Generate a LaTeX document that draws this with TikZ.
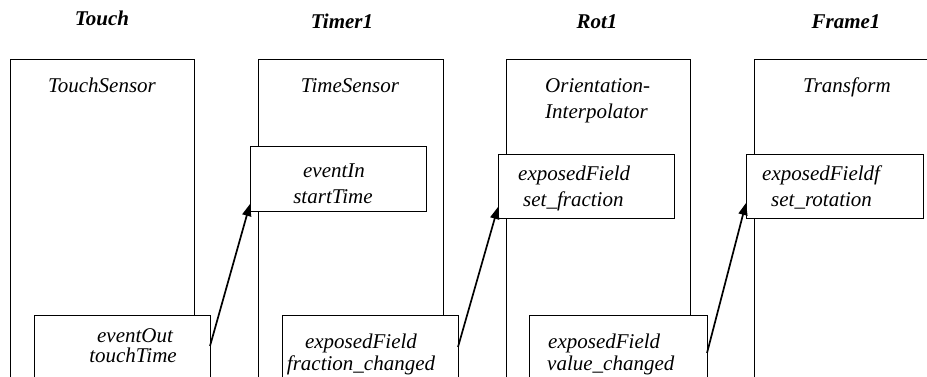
\documentclass[tikz,border=0pt]{standalone}
\usepackage{fontspec}
\setmainfont{Liberation Serif}
\usetikzlibrary{arrows.meta}
\begin{document}
\begin{tikzpicture}[x=1pt, y=-1pt,
  box/.style={draw, line width=0.9pt, fill=white, rectangle, anchor=north west,
              inner sep=0pt, outer sep=0pt},
  lbl/.style={inner sep=0pt, font=\fontsize{21}{25}\selectfont\itshape},
  ttl/.style={inner sep=0pt, font=\fontsize{21}{25}\selectfont\bfseries\itshape},
  link/.style={line width=1.7pt, -{Triangle[length=12pt,width=9pt]}}]
\useasboundingbox (0,0) rectangle (927,376);
\clip (0,0) rectangle (927,376);

% node titles
\node[ttl, anchor=base] (tTouch) at (102,25) {Touch};
\node[ttl, anchor=base] (tTimer) at (342,28) {Timer1};
\node[ttl, anchor=base] (tRot)   at (597,28) {Rot1};
\node[ttl, anchor=base] (tFrame) at (846,28) {Frame1};

% node bodies
\node[box, minimum width=184pt, minimum height=340pt] (bTouch) at (10,59) {};
\node[box, minimum width=185pt, minimum height=340pt] (bTimer) at (258,59) {};
\node[box, minimum width=184pt, minimum height=340pt] (bRot)   at (506,59) {};
\node[box, minimum width=200pt, minimum height=340pt] (bFrame) at (754,59) {};

% node types
\node[lbl, anchor=base] (nTouch) at (102,92) {TouchSensor};
\node[lbl, anchor=base] (nTimer) at (350,92) {TimeSensor};
\node[lbl, anchor=base west] (nRotA) at (545,92) {Orientation-};
\node[lbl, anchor=base west] (nRotB) at (545,118) {Interpolator};
\node[lbl, anchor=base] (nFrame) at (847,92) {Transform};

% input fields
\node[box, minimum width=176pt, minimum height=65pt] (inTimer) at (250,146) {};
\node[box, minimum width=176pt, minimum height=64pt] (inRot)   at (498,154) {};
\node[box, minimum width=177pt, minimum height=64pt] (inFrame) at (746,154) {};
\node[lbl, anchor=base] (fTimerA) at (334,177) {eventIn};
\node[lbl, anchor=base] (fTimerB) at (333,203) {startTime};
\node[lbl, anchor=base west] (fRotA) at (518,180) {exposedField};
\node[lbl, anchor=base west] (fRotB) at (523,206) {set\_fraction};
\node[lbl, anchor=base west] (fFrameA) at (762,180) {exposedFieldf};
\node[lbl, anchor=base west] (fFrameB) at (771,206) {set\_rotation};

% output fields
\node[box, minimum width=176pt, minimum height=62pt] (outTouch) at (34,315) {};
\node[box, minimum width=176pt, minimum height=62pt] (outTimer) at (282,315) {};
\node[box, minimum width=178pt, minimum height=62pt] (outRot)   at (529,315) {};
\node[lbl, anchor=base] (oTouchA) at (135,342) {eventOut};
\node[lbl, anchor=base] (oTouchB) at (133,362) {touchTime};
\node[lbl, anchor=base] (oTimerA) at (361,348) {exposedField};
\node[lbl, anchor=base] (oTimerB) at (361,370) {fraction\_changed};
\node[lbl, anchor=base west] (oRotA) at (548,348) {exposedField};
\node[lbl, anchor=base west] (oRotB) at (547,370) {value\_changed};

% routes
\draw[link] (outTouch.east) -- ([yshift=7pt]inTimer.south west);
\draw[link] ([yshift=-1pt]outTimer.east) -- ([yshift=11pt]inRot.south west);
\draw[link] ([yshift=-7pt]outRot.east) -- ([yshift=15pt]inFrame.south west);
\end{tikzpicture}
\end{document}
